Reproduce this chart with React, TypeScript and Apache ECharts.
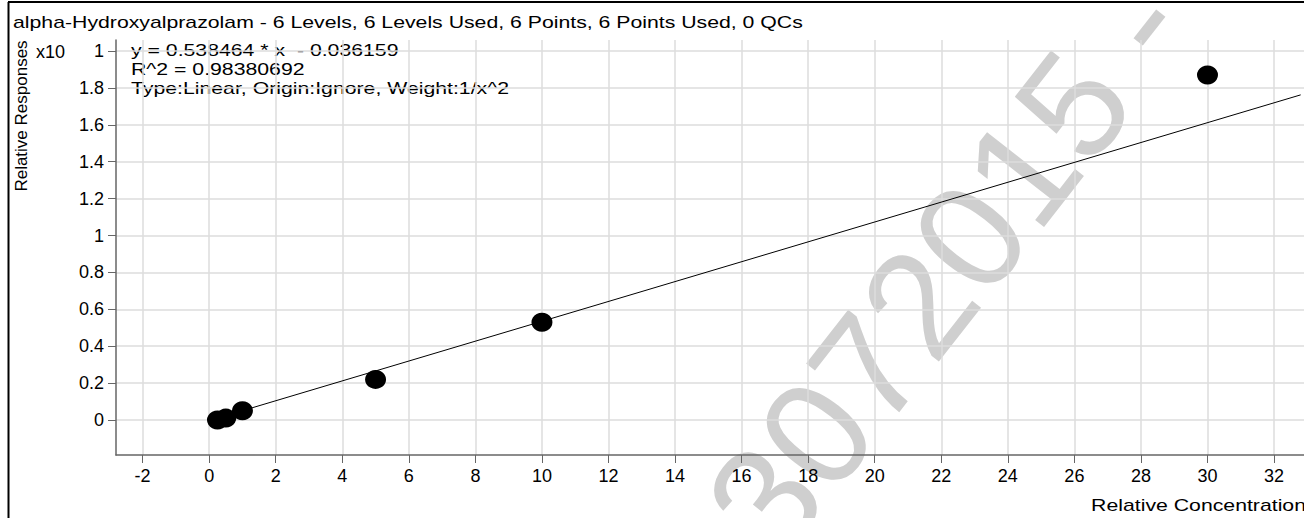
import React, { useRef, useEffect } from 'react'
import * as echarts from 'echarts'

const pointsX = [0.25, 0.5, 1, 5, 10, 30]
const pointsY = [0.0, 0.01, 0.05, 0.22, 0.53, 1.87]
const slope = 0.538464
const intercept = -0.036159
const fitRange = [1, 32.8]
const xTicks = [-2, 0, 2, 4, 6, 8, 10, 12, 14, 16, 18, 20, 22, 24, 26, 28, 30, 32]
const yTicks = [0, 0.2, 0.4, 0.6, 0.8, 1, 1.2, 1.4, 1.6, 1.8, 2]
const title = 'alpha-Hydroxyalprazolam - 6 Levels, 6 Levels Used, 6 Points, 6 Points Used, 0 QCs'
const notes = ['y = 0.538464 * x  - 0.036159', 'R^2 = 0.98380692', 'Type:Linear, Origin:Ignore, Weight:1/x^2']

const FONT = '"Liberation Sans", Arial, sans-serif'
const WIDE = 1.25

export default function App() {
  const ref = useRef<HTMLDivElement>(null)

  useEffect(() => {
    if (!ref.current) return
    const chart = echarts.init(ref.current, null, { renderer: 'svg' })
    const fit = fitRange.map(x => [x, (slope * x + intercept) / 10])
    const txt = (text: string, x: number, y: number, extra: object = {}) => ({
      type: 'text',
      x,
      y,
      scaleX: WIDE,
      style: { text, fontSize: 17, fontFamily: FONT, fill: '#000', verticalAlign: 'middle', ...extra },
    })
    chart.setOption({
      animation: false,
      textStyle: { fontFamily: FONT },
      grid: { left: 116, right: 0, top: 40, bottom: 63, outerBoundsMode: 'none', containLabel: false },
      xAxis: {
        type: 'value',
        min: -2.8,
        max: 32.9,
        axisLine: { onZero: false, lineStyle: { color: '#666', width: 1.5 } },
        axisTick: { customValues: xTicks, length: 8, lineStyle: { color: '#666' } },
        axisLabel: { customValues: xTicks, color: '#000', fontSize: 18, margin: 12 },
        splitLine: { show: true, lineStyle: { color: '#ddd', width: 1.5 } },
      },
      yAxis: {
        type: 'value',
        min: -0.19,
        max: 2.06,
        axisLine: { show: true, onZero: false, lineStyle: { color: '#666', width: 1.5 } },
        axisTick: { show: true, customValues: yTicks, length: 8, lineStyle: { color: '#666' } },
        axisLabel: {
          customValues: yTicks,
          color: '#000',
          fontSize: 18,
          margin: 12,
          formatter: (v: number) => (Math.abs(v - 2) < 1e-6 ? '1' : String(Math.round(v * 10) / 10)),
        },
        splitLine: { show: true, lineStyle: { color: '#ddd', width: 1.5 } },
      },
      graphic: [
        {
          type: 'text',
          rotation: (52 * Math.PI) / 180,
          x: 960,
          y: 250,
          style: {
            text: '03072015 - L',
            fontSize: 150,
            fontFamily: FONT,
            fill: '#cfcfcf',
            align: 'center',
            verticalAlign: 'middle',
          },
          z: -1,
        },
        { type: 'line', shape: { x1: 8.5, y1: 2, x2: 8.5, y2: 518 }, style: { stroke: '#000', lineWidth: 2 } },
        { type: 'line', shape: { x1: 8, y1: 2, x2: 1304, y2: 2 }, style: { stroke: '#000', lineWidth: 2 } },
        txt(title, 13, 22),
        {
          type: 'text',
          x: 21,
          y: 116,
          rotation: Math.PI / 2,
          style: { text: 'Relative Responses', fontSize: 17, fontFamily: FONT, fill: '#000', align: 'center', verticalAlign: 'middle' },
        },
        txt('Relative Concentration', 1306, 505, { align: 'right' }),
        { type: 'text', x: 36, y: 52, style: { text: 'x10', fontSize: 18, fontFamily: FONT, fill: '#000', verticalAlign: 'middle' } },
        ...notes.map((t, i) => txt(t, 131, 50 + i * 19)),
      ],
      series: [
        {
          type: 'line',
          data: fit,
          symbol: 'none',
          lineStyle: { color: '#000', width: 1 },
        },
        {
          type: 'scatter',
          data: pointsX.map((x, i) => [x, pointsY[i]]),
          symbol: 'circle',
          symbolSize: [21, 19],
          itemStyle: { color: '#000', opacity: 1 },
        },
      ],
    })
    return () => chart.dispose()
  }, [])

  return <div ref={ref} style={{ position: 'fixed', left: 0, top: 0, width: 1304, height: 518, background: '#fff' }} />
}
